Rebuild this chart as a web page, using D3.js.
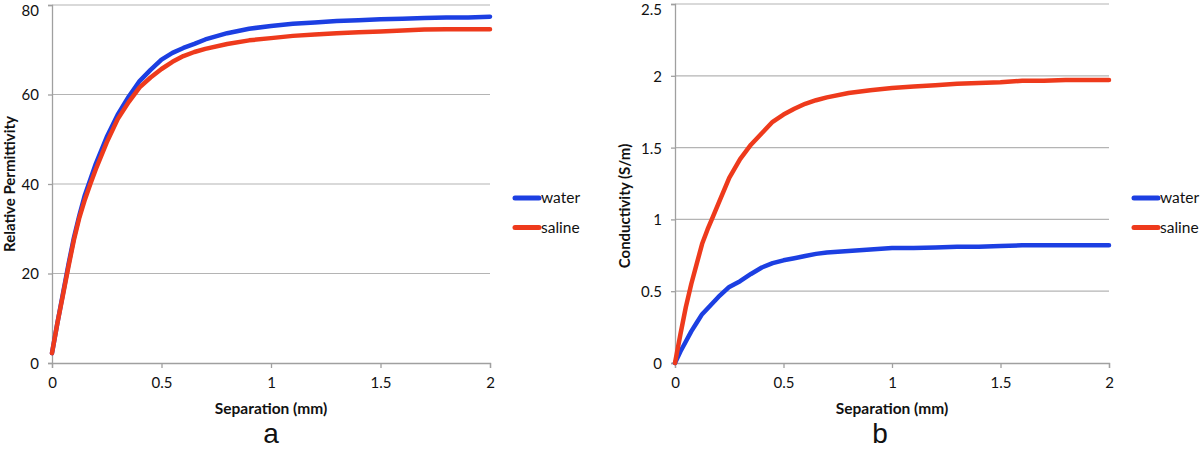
<!DOCTYPE html>
<html>
<head>
<meta charset="utf-8">
<script src="https://cdn.jsdelivr.net/npm/d3@7"></script>
<style>
  body { margin: 0; background: #fff; }
  svg { display: block; }
</style>
</head>
<body>
<div id="chart"></div>
<script>
// separation (mm), shared by both panels
const separation = [0, 0.025, 0.05, 0.075, 0.1, 0.125, 0.15, 0.175, 0.2, 0.25, 0.3, 0.35, 0.4, 0.45, 0.5,
    0.55, 0.6, 0.65, 0.7, 0.8, 0.9, 1.0, 1.1, 1.2, 1.3, 1.4, 1.5, 1.6, 1.7, 1.8, 1.9, 2.0];

// panel a - relative permittivity
const permWater = [2.2, 9, 15.5, 22, 28, 33, 37.5, 41, 44.5, 50.5, 55.5, 59.5, 63, 65.5, 67.8,
    69.3, 70.4, 71.3, 72.3, 73.7, 74.7, 75.3, 75.8, 76.1, 76.4, 76.6, 76.8, 76.9, 77.1, 77.2, 77.2, 77.4];
const permSaline = [2.2, 9, 15.2, 21.5, 27.5, 32.5, 36.5, 40, 43.3, 49.3, 54.5, 58.3, 61.6, 63.8, 65.7,
    67.3, 68.6, 69.5, 70.2, 71.3, 72.1, 72.6, 73.1, 73.4, 73.7, 73.9, 74.1, 74.3, 74.5, 74.6, 74.6, 74.6];

// panel b - conductivity (S/m)
const condWater = [0, 0.08, 0.15, 0.22, 0.28, 0.34, 0.38, 0.42, 0.46, 0.53, 0.57, 0.62, 0.665, 0.695, 0.715,
    0.73, 0.745, 0.76, 0.77, 0.78, 0.79, 0.80, 0.80, 0.805, 0.81, 0.81, 0.815, 0.82, 0.82, 0.82, 0.82, 0.82];
const condSaline = [0, 0.2, 0.39, 0.55, 0.69, 0.83, 0.93, 1.02, 1.11, 1.29, 1.42, 1.52, 1.60, 1.68, 1.73,
    1.77, 1.805, 1.83, 1.85, 1.88, 1.90, 1.915, 1.925, 1.935, 1.945, 1.95, 1.955, 1.965, 1.965, 1.97, 1.97, 1.97];

const xTicks = [0, 0.5, 1, 1.5, 2];
const permTicks = [0, 20, 40, 60, 80];
const condTicks = [0, 0.5, 1, 1.5, 2, 2.5];
const seriesNames = ["water", "saline"];
const seriesColors = ["#1c3fe2", "#ee3a1c"];

const width = 1200;
const height = 450;
const tickFont = "Lato, 'Open Sans', sans-serif";

let svg = d3.select("#chart")
    .append("svg")
    .attr("width", width)
    .attr("height", height);

function drawPanel(opt) {
    const x = d3.scaleLinear().domain([0, 2]).range([opt.left, opt.right]);
    const y = d3.scaleLinear().domain([0, opt.yMax]).range([363, opt.top]);

    let g = svg.append("g");

    // horizontal grid
    g.append("g")
        .selectAll("line")
        .data(opt.yTicks.filter(d => d > 0))
        .enter()
        .append("line")
        .attr("x1", opt.left)
        .attr("x2", opt.right)
        .attr("y1", d => y(d))
        .attr("y2", d => y(d))
        .attr("stroke", "#b4b4b4")
        .attr("stroke-width", 1.2);

    // axes
    let xAxis = g.append("g")
        .attr("transform", "translate(0,363)")
        .call(d3.axisBottom(x).tickValues(xTicks).tickFormat(d3.format("")).tickSize(5).tickPadding(9));
    let yAxis = g.append("g")
        .attr("transform", "translate(" + opt.left + ",0)")
        .call(d3.axisLeft(y).tickValues(opt.yTicks).tickFormat(d3.format("")).tickSize(4).tickPadding(9));

    [xAxis, yAxis].forEach(a => {
        a.select(".domain").attr("stroke", "#a0a0a0").attr("stroke-width", 1.3);
        a.selectAll(".tick line").attr("stroke", "#a0a0a0").attr("stroke-width", 1.3);
        a.selectAll(".tick text")
            .attr("fill", "#111")
            .style("font-family", tickFont)
            .style("font-size", "15px");
    });
    // keep the top label inside the picture
    yAxis.selectAll(".tick text").attr("dy", d => d === opt.yMax ? "0.7em" : "0.36em");

    // lines, water first so saline sits on top
    const line = d3.line()
        .x((d, i) => x(separation[i]))
        .y(d => y(d));

    opt.series.forEach((vals, k) => {
        g.append("path")
            .datum(vals)
            .attr("fill", "none")
            .attr("stroke", seriesColors[k])
            .attr("stroke-width", 4.5)
            .attr("stroke-linejoin", "round")
            .attr("stroke-linecap", "round")
            .attr("d", line);
    });

    // axis titles
    g.append("text")
        .attr("x", (opt.left + opt.right) / 2)
        .attr("y", 414)
        .attr("text-anchor", "middle")
        .style("font-family", tickFont)
        .style("font-weight", "bold")
        .style("font-size", "15.5px")
        .attr("fill", "#111")
        .text("Separation (mm)");

    g.append("text")
        .attr("transform", "translate(" + opt.yTitleX + "," + opt.yTitleY + ") rotate(-90)")
        .attr("text-anchor", "middle")
        .style("font-family", tickFont)
        .style("font-weight", "bold")
        .style("font-size", "15px")
        .attr("fill", "#111")
        .text(opt.yTitle);

    // legend
    let legend = g.append("g")
        .selectAll("g")
        .data(seriesNames)
        .enter()
        .append("g")
        .attr("transform", (d, i) => "translate(" + opt.legendX + "," + (198 + i * 29.5) + ")");
    legend.append("line")
        .attr("x1", 0)
        .attr("x2", 24)
        .attr("stroke", (d, i) => seriesColors[i])
        .attr("stroke-width", 5)
        .attr("stroke-linecap", "round");
    legend.append("text")
        .attr("x", 26)
        .attr("dy", "0.35em")
        .style("font-family", tickFont)
        .style("font-size", "15.5px")
        .attr("fill", "#111")
        .text(d => d);

    // panel letter
    g.append("text")
        .attr("x", opt.letterX)
        .attr("y", 443)
        .attr("text-anchor", "middle")
        .style("font-family", "'Liberation Sans', Arial, sans-serif")
        .style("font-size", "28px")
        .attr("fill", "#111")
        .text(opt.letter);
}

drawPanel({
    left: 52, right: 490, top: 5, yMax: 80, yTicks: permTicks,
    series: [permWater, permSaline],
    yTitle: "Relative Permittivity", yTitleX: 15, yTitleY: 184,
    legendX: 515, letter: "a", letterX: 271
});

drawPanel({
    left: 675, right: 1109, top: 4, yMax: 2.5, yTicks: condTicks,
    series: [condWater, condSaline],
    yTitle: "Conductivity (S/m)", yTitleX: 630, yTitleY: 206,
    legendX: 1134, letter: "b", letterX: 880
});
</script>
</body>
</html>
